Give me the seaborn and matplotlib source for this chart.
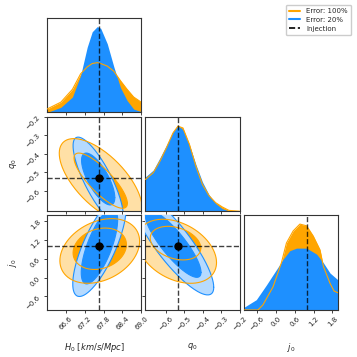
import numpy as np
import matplotlib
matplotlib.use("Agg")
import matplotlib.pyplot as plt
import seaborn as sns
from matplotlib.lines import Line2D

sns.set_style("ticks")

# injected (true) values
inj_h0 = 67.66
inj_q0 = -0.533
inj_j0 = 1.0

# 1D marginals (arbitrary units)
h0_x = [66.0, 66.44, 66.81, 67.07, 67.28, 67.44, 67.60, 67.71, 67.92, 68.13, 68.34, 68.55, 68.76, 69.0]
h0_wide = [0.04, 0.12, 0.27, 0.45, 0.53, 0.57, 0.58, 0.57, 0.54, 0.48, 0.37, 0.27, 0.18, 0.12]
h0_narrow = [0.0, 0.06, 0.18, 0.43, 0.76, 0.94, 1.0, 0.98, 0.80, 0.53, 0.29, 0.14, 0.04, 0.01]

q0_x = [-0.71, -0.667, -0.632, -0.596, -0.561, -0.534, -0.507, -0.472, -0.436, -0.401, -0.365, -0.330, -0.294, -0.258, -0.2]
q0_wide = [0.37, 0.45, 0.58, 0.74, 0.91, 0.99, 0.97, 0.78, 0.52, 0.31, 0.18, 0.10, 0.05, 0.01, 0.0]
q0_narrow = [0.40, 0.48, 0.62, 0.77, 0.93, 1.0, 0.95, 0.77, 0.54, 0.34, 0.19, 0.09, 0.03, 0.004, 0.0]

j0_x_wide = [-1.03, -0.58, -0.418, -0.096, 0.171, 0.332, 0.546, 0.761, 0.975, 1.189, 1.404, 1.511, 1.725, 1.854, 1.98]
j0_wide = [0.0, 0.0, 0.06, 0.27, 0.55, 0.78, 0.92, 1.0, 0.98, 0.86, 0.70, 0.51, 0.31, 0.22, 0.20]
j0_x_narrow = [-1.03, -0.632, -0.311, 0.011, 0.225, 0.439, 0.654, 0.975, 1.296, 1.511, 1.725, 1.98]
j0_narrow = [0.03, 0.12, 0.29, 0.47, 0.59, 0.69, 0.72, 0.72, 0.65, 0.55, 0.43, 0.35]

# 2D credible regions: (centre x, centre y, half width, half height, correlation)
# listed as [68%, 95%] for each pair of parameters
h0_q0_wide = [(67.71, -0.545, 0.85, 0.149, -0.82), (67.71, -0.545, 1.32, 0.227, -0.65)]
h0_q0_narrow = [(67.63, -0.536, 0.53, 0.14, -0.72), (67.63, -0.545, 0.80, 0.235, -0.80)]
h0_j0_wide = [(67.68, 0.92, 0.85, 0.66, 0.2), (67.68, 0.85, 1.27, 1.03, 0.3)]
h0_j0_narrow = [(67.67, 1.0, 0.58, 1.2, 0.7), (67.67, 1.0, 0.85, 1.6, 0.75)]
q0_j0_wide = [(-0.547, 1.10, 0.137, 0.535, -0.3), (-0.54, 0.84, 0.215, 1.02, -0.35)]
q0_j0_narrow = [(-0.56, 1.08, 0.151, 1.07, -0.85), (-0.56, 1.08, 0.22, 1.63, -0.85)]

labels = ["Error: 100%", "Error: 20%"]
orange, orange_light = "#FFA500", "#FFE0A6"
blue, blue_light = "#1E90FF", "#B5DAFF"

h0_lim, q0_lim, j0_lim = (66.0, 69.0), (-0.71, -0.2), (-1.03, 1.98)
h0_ticks = [66.6, 67.2, 67.8, 68.4, 69.0]
q0_ticks = [-0.6, -0.5, -0.4, -0.3, -0.2]
j0_ticks = [-0.6, 0.0, 0.6, 1.2, 1.8]


def ellipse(spec, n=240):
    cx, cy, hx, hy, rho = spec
    t = np.linspace(0, 2 * np.pi, n)
    x = cx + hx * np.cos(t)
    y = cy + hy * (rho * np.cos(t) + np.sqrt(1 - rho ** 2) * np.sin(t))
    return x, y


def draw_2d(ax, wide, narrow):
    for specs, dark, light, z in [(wide, orange, orange_light, 1), (narrow, blue, blue_light, 3)]:
        x95, y95 = ellipse(specs[1])
        x68, y68 = ellipse(specs[0])
        ax.fill(x95, y95, color=light, lw=0, zorder=z)
        ax.fill(x68, y68, color=dark, lw=0, zorder=z)
    for specs, dark, z in [(narrow, blue, 4), (wide, orange, 5)]:
        for s in specs:
            x, y = ellipse(s)
            sns.lineplot(x=x, y=y, sort=False, estimator=None, color=dark, lw=0.8, ax=ax, zorder=z)


def draw_1d(ax, xw, yw, xn, yn):
    ax.fill_between(xw, yw, color=orange, lw=0, zorder=1)
    ax.fill_between(xn, yn, color=blue, lw=0, zorder=2)
    sns.lineplot(x=xw, y=yw, sort=False, estimator=None, color=orange, lw=0.8, ax=ax, zorder=3)
    ax.set_ylim(0, 1.1 * max(max(yw), max(yn)))
    ax.set_yticks([])


fig, axes = plt.subplots(3, 3, figsize=(3.57, 3.57), dpi=100)
fig.subplots_adjust(left=0.1317, right=0.9468, bottom=0.1317, top=0.9496,
                    wspace=0.045, hspace=0.045)
for ax in [axes[0, 1], axes[0, 2], axes[1, 2]]:
    ax.axis("off")

dash = dict(color="k", ls="--", lw=1.0, alpha=0.75, zorder=6)

# diagonal
draw_1d(axes[0, 0], h0_x, h0_wide, h0_x, h0_narrow)
axes[0, 0].axvline(inj_h0, **dash)
draw_1d(axes[1, 1], q0_x, q0_wide, q0_x, q0_narrow)
axes[1, 1].axvline(inj_q0, **dash)
draw_1d(axes[2, 2], j0_x_wide, j0_wide, j0_x_narrow, j0_narrow)
axes[2, 2].axvline(inj_j0, **dash)

# off-diagonal
pairs = [(axes[1, 0], h0_q0_wide, h0_q0_narrow, inj_h0, inj_q0),
         (axes[2, 0], h0_j0_wide, h0_j0_narrow, inj_h0, inj_j0),
         (axes[2, 1], q0_j0_wide, q0_j0_narrow, inj_q0, inj_j0)]
for ax, w, n, xi, yi in pairs:
    draw_2d(ax, w, n)
    ax.axvline(xi, **dash)
    ax.axhline(yi, **dash)
    ax.plot([xi], [yi], "o", color="k", ms=5, zorder=7)

col_lims = [h0_lim, q0_lim, j0_lim]
col_ticks = [h0_ticks, q0_ticks, j0_ticks]
row_lims = [None, q0_lim, j0_lim]
row_ticks = [None, q0_ticks, j0_ticks]
names = [r"$H_0\ [km/s/Mpc]$", r"$q_0$", r"$j_0$"]

for i in range(3):
    for j in range(i + 1):
        ax = axes[i, j]
        ax.set_xlim(col_lims[j])
        ax.set_xticks(col_ticks[j])
        ax.set_xticklabels([f"{v:.1f}".replace("-", "\u2212") for v in col_ticks[j]],
                           rotation=45, fontsize=5)
        if i != j:
            ax.set_ylim(row_lims[i])
            ax.set_yticks(row_ticks[i])
            ax.set_yticklabels([f"{v:.1f}".replace("-", "\u2212") for v in row_ticks[i]],
                               rotation=45, fontsize=5)
        ax.tick_params(length=2.5, width=0.6, pad=1.5, colors="#222222")
        for sp in ax.spines.values():
            sp.set_color("#333333")
            sp.set_linewidth(0.8)
        ax.set_xlabel("")
        ax.set_ylabel("")
        if i < 2:
            ax.tick_params(labelbottom=False)
        else:
            ax.set_xlabel(names[j], fontsize=6)
            ax.xaxis.set_label_coords(0.5, -0.33)
        if j > 0:
            ax.tick_params(labelleft=False)
        elif i > 0:
            ax.set_ylabel(names[i], fontsize=6)
            ax.yaxis.set_label_coords(-0.30, 0.5)

handles = [Line2D([], [], color=orange, lw=1.5),
           Line2D([], [], color=blue, lw=1.5),
           Line2D([], [], color="k", ls="--", lw=1.2)]
fig.legend(handles, labels + ["Injection"], loc="upper right",
           bbox_to_anchor=(0.993, 0.997), fontsize=5, handlelength=1.6,
           borderpad=0.5, labelspacing=0.4, framealpha=1, edgecolor="#cccccc")

fig.savefig("out.png", dpi=100)
